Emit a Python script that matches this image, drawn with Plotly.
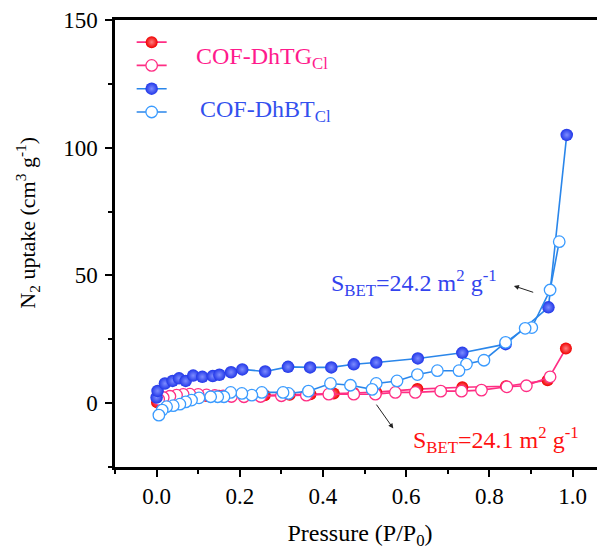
import plotly.graph_objects as go

# COF-DhTG_Cl adsorption (filled) and desorption (open)
tg_ads_p = [0.001, 0.006, 0.02, 0.04, 0.06, 0.08, 0.10, 0.12, 0.15, 0.18, 0.21, 0.26, 0.32,
            0.37, 0.426, 0.474, 0.528, 0.627, 0.735, 0.84, 0.94, 0.984]
tg_ads_v = [0.3, 1.2, 1.8, 2.2, 2.4, 2.6, 2.7, 2.8, 2.9, 3.0, 3.0, 3.1, 3.3,
            3.5, 3.8, 4.0, 4.3, 5.5, 6.2, 6.6, 9.0, 21.4]
tg_des_p = [0.946, 0.889, 0.842, 0.781, 0.733, 0.683, 0.622, 0.574, 0.526, 0.474, 0.414, 0.36,
            0.30, 0.25, 0.21, 0.18, 0.16, 0.14, 0.12, 0.10, 0.08, 0.064, 0.048, 0.032, 0.016, 0.005]
tg_des_v = [10.3, 6.8, 6.4, 5.1, 4.7, 4.7, 4.2, 4.2, 3.5, 3.5, 3.5, 3.1,
            2.9, 2.6, 2.5, 2.6, 2.8, 3.0, 3.2, 3.4, 3.5, 3.4, 3.1, 2.7, 2.2, 1.5]

# COF-DhBT_Cl adsorption (filled) and desorption (open)
bt_ads_p = [0.0, 0.0024, 0.02, 0.0385, 0.054, 0.07, 0.088, 0.11, 0.135, 0.151, 0.179, 0.206,
            0.261, 0.316, 0.369, 0.42, 0.474, 0.528, 0.628, 0.735, 0.839, 0.942, 0.986]
bt_ads_v = [2.2, 4.8, 7.7, 8.7, 9.7, 8.7, 10.8, 10.3, 10.6, 11.1, 12.1, 13.2,
            12.4, 14.2, 14.0, 14.0, 15.2, 15.9, 17.5, 19.7, 23.1, 37.5, 105.0]
bt_des_p = [0.968, 0.946, 0.902, 0.886, 0.839, 0.787, 0.745, 0.727, 0.675, 0.627, 0.578, 0.528,
            0.518, 0.466, 0.418, 0.365, 0.317, 0.304, 0.253, 0.229, 0.205, 0.178, 0.162, 0.147,
            0.13, 0.102, 0.084, 0.07, 0.056, 0.04, 0.024, 0.0135, 0.0055]
bt_des_v = [63.2, 44.3, 29.6, 29.3, 23.8, 16.8, 15.3, 12.7, 12.7, 11.2, 8.7, 7.7,
            5.4, 7.0, 7.7, 4.7, 3.8, 4.2, 4.2, 3.1, 3.8, 4.2, 2.5, 2.5,
            2.5, 2.1, 1.2, 0.5, -0.4, -1.0, -1.4, -2.7, -4.7]

x_ticks = [0.0, 0.2, 0.4, 0.6, 0.8, 1.0]
y_ticks = [0, 50, 100, 150]

FONT = "Liberation Serif"
PINK = "#FF2E84"
RED = "#F00000"
BLUE_LINE = "#2A86EA"
BLUE_BALL = "#2036E8"
BLUE_OPEN = "#3A9BFF"

fig = go.Figure()
fig.add_trace(go.Scatter(
    x=tg_ads_p, y=tg_ads_v, mode="lines+markers", name="",
    line=dict(color=PINK, width=1.6),
    marker=dict(symbol="circle", size=12, color=RED,
                gradient=dict(type="radial", color="#FF8080"),
                line=dict(width=0))))
fig.add_trace(go.Scatter(
    x=tg_des_p, y=tg_des_v, mode="lines+markers", name="",
    line=dict(color=PINK, width=1.6),
    marker=dict(symbol="circle", size=11.5, color="white",
                line=dict(color=PINK, width=1.3))))
fig.add_trace(go.Scatter(
    x=bt_ads_p, y=bt_ads_v, mode="lines+markers", name="",
    line=dict(color=BLUE_LINE, width=1.6),
    marker=dict(symbol="circle", size=12.5, color=BLUE_BALL,
                gradient=dict(type="radial", color="#7D8CFF"),
                line=dict(width=0))))
fig.add_trace(go.Scatter(
    x=bt_des_p, y=bt_des_v, mode="lines+markers", name="",
    line=dict(color=BLUE_LINE, width=1.6),
    marker=dict(symbol="circle", size=11.5, color="white",
                line=dict(color=BLUE_OPEN, width=1.3))))

fig.update_layout(
    width=605, height=549,
    margin=dict(l=107, r=8, t=12, b=90),
    paper_bgcolor="white", plot_bgcolor="white",
    font=dict(family=FONT, color="black", size=23),
    showlegend=True,
    legend=dict(x=0.034, y=0.9877, xanchor="left", yanchor="top",
                bgcolor="rgba(0,0,0,0)", borderwidth=0,
                font=dict(size=15.6), tracegroupgap=0),
    xaxis=dict(range=[-0.1, 1.078], tickvals=x_ticks,
               ticktext=[f"{v:.1f}" for v in x_ticks],
               showgrid=False, zeroline=False, automargin=False,
               showline=True, linecolor="black", linewidth=2.5, mirror=True,
               ticks="outside", ticklen=7, tickwidth=2, tickcolor="black",
               minor=dict(dtick=0.1, tick0=0, ticks="outside", ticklen=4,
                          tickwidth=2, tickcolor="black"),
               title=dict(text="Pressure (P/P<sub>0</sub>)", font=dict(size=24), standoff=16),
               tickfont=dict(size=23)),
    yaxis=dict(range=[-25, 150], tickvals=y_ticks,
               showgrid=False, zeroline=False, automargin=False,
               showline=True, linecolor="black", linewidth=2.5, mirror=False,
               ticks="outside", ticklen=7, tickwidth=2, tickcolor="black",
               minor=dict(dtick=25, tick0=0, ticks="outside", ticklen=4,
                          tickwidth=2, tickcolor="black"),
               ticklabelstandoff=3,
               tickfont=dict(size=23)),
    annotations=[
        dict(x=-0.178, y=0.546, xref="paper", yref="paper", xanchor="center", yanchor="middle",
             text="N<sub>2</sub> uptake (cm<sup>3</sup> g<sup>-1</sup>)", textangle=-90,
             showarrow=False, font=dict(size=22, color="black", family=FONT)),
        dict(x=0.161, y=0.914, xref="paper", yref="paper", xanchor="left", yanchor="middle",
             text="COF-DhTG<sub>Cl</sub>", showarrow=False,
             font=dict(size=24, color="#FF1A8C", family=FONT)),
        dict(x=0.169, y=0.797, xref="paper", yref="paper", xanchor="left", yanchor="middle",
             text="COF-DhBT<sub>Cl</sub>", showarrow=False,
             font=dict(size=24, color="#3350EE", family=FONT)),
        dict(x=0.415, y=47, xref="x", yref="y", xanchor="left", yanchor="middle",
             text="S<sub>BET</sub>=24.2 m<sup>2</sup> g<sup>-1</sup>", showarrow=False,
             font=dict(size=24, color="#3344EE", family=FONT)),
        dict(x=0.611, y=-14.5, xref="x", yref="y", xanchor="left", yanchor="middle",
             text="S<sub>BET</sub>=24.1 m<sup>2</sup> g<sup>-1</sup>", showarrow=False,
             font=dict(size=24, color="#FF1010", family=FONT)),
        dict(x=0.859, y=45.9, ax=0.909, ay=43.2, xref="x", yref="y", axref="x", ayref="y",
             text="", showarrow=True, arrowhead=2, arrowsize=1, arrowwidth=1, arrowcolor="#222222"),
        dict(x=0.569, y=-9.9, ax=0.526, ay=0.0, xref="x", yref="y", axref="x", ayref="y",
             text="", showarrow=True, arrowhead=2, arrowsize=1, arrowwidth=1, arrowcolor="#222222"),
    ],
)

fig.write_html("out.html")
